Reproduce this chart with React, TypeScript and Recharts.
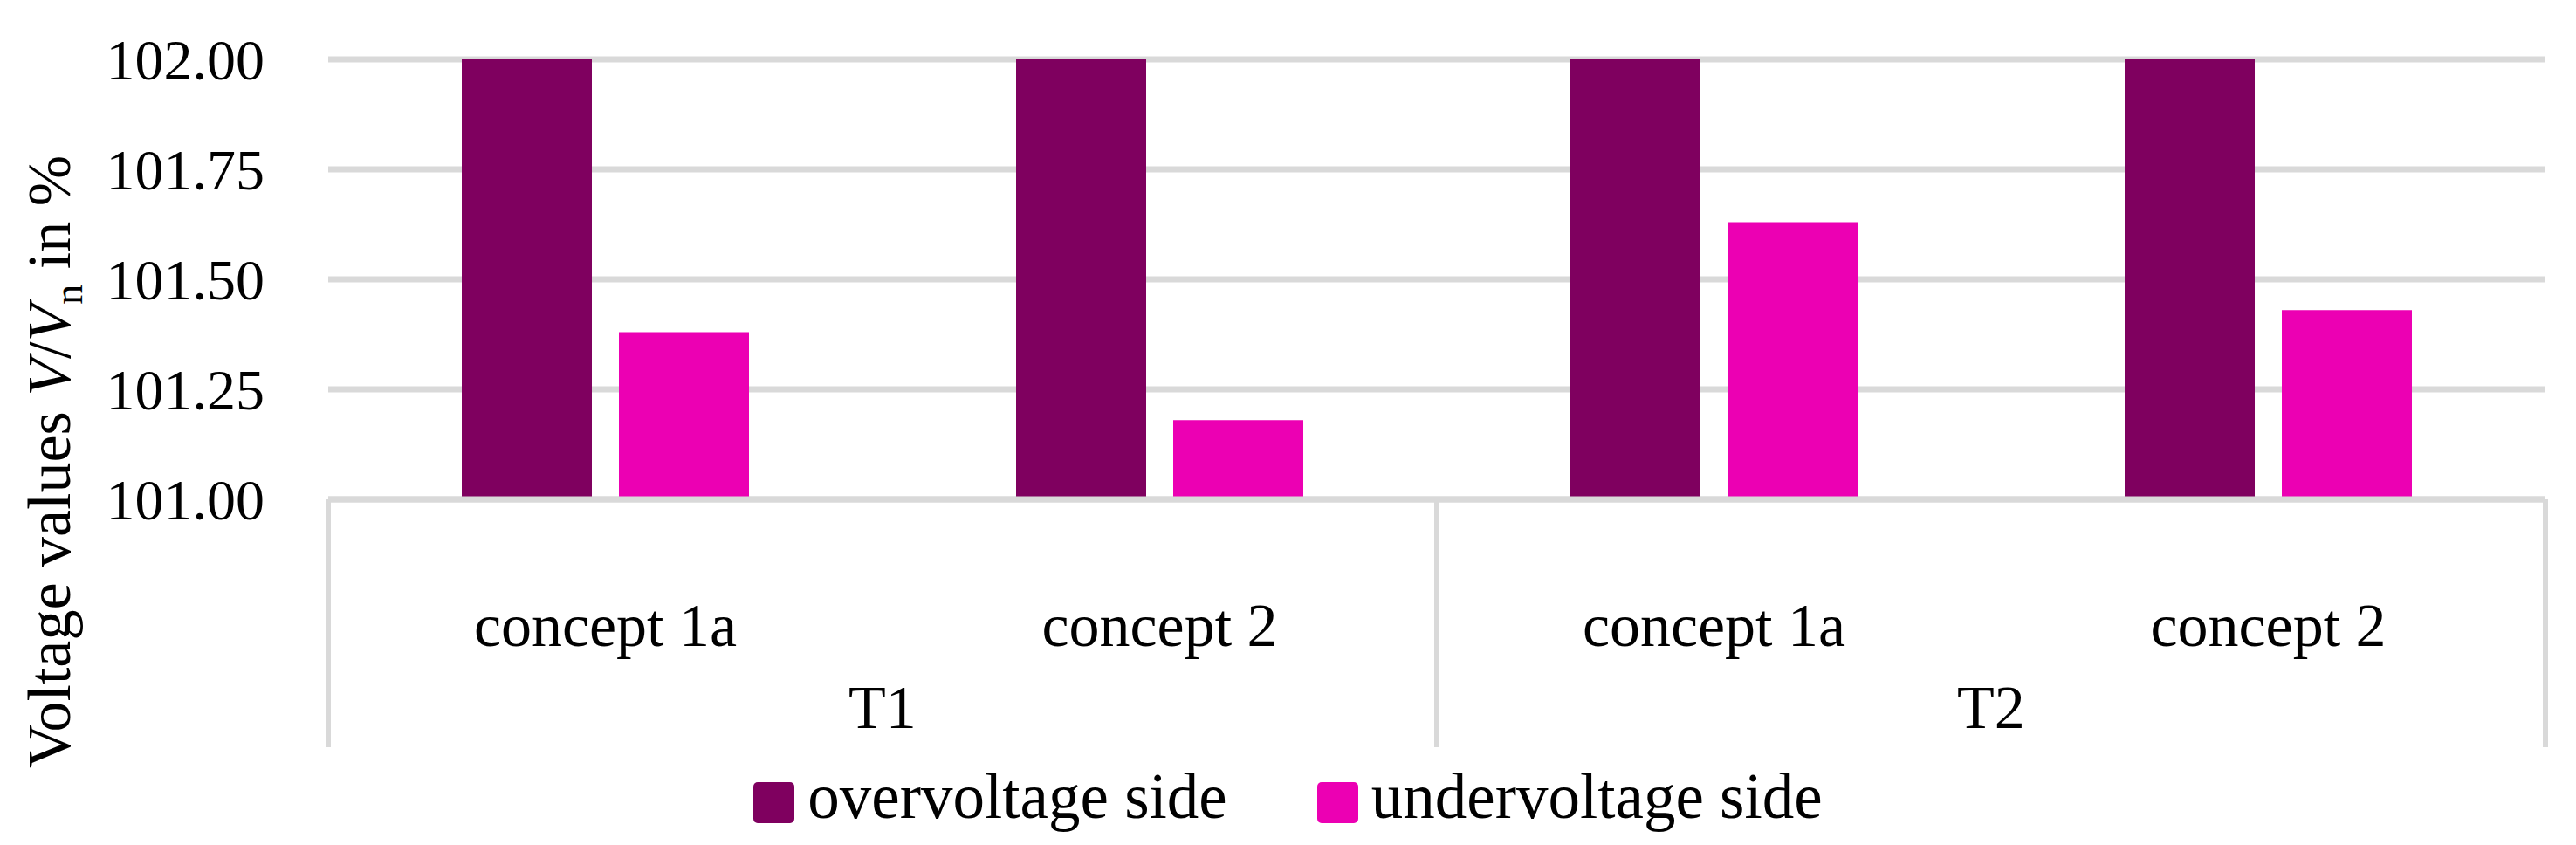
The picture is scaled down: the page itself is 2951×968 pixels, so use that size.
import * as React from "react";
import {
  Bar,
  BarChart,
  CartesianGrid,
  Legend,
  XAxis,
  YAxis,
} from "recharts";

// data
const groups = ["T1", "T1", "T2", "T2"];
const concepts = ["concept 1a", "concept 2", "concept 1a", "concept 2"];
const overvoltage = [102.0, 102.0, 102.0, 102.0];
const undervoltage = [101.38, 101.18, 101.63, 101.43];
const yTicks = [101.0, 101.25, 101.5, 101.75, 102.0];

const seriesNames = ["overvoltage side", "undervoltage side"];
const seriesColors = ["#7F005F", "#EC00B3"];

const data = concepts.map((c, i) => ({
  concept: c,
  group: groups[i],
  over: overvoltage[i],
  under: undervoltage[i],
}));

// layout
const W = 2951;
const H = 968;
const FONT = '"Liberation Serif", "Times New Roman", serif';
const GRID = "#D9D9D9";
const PLOT_LEFT = 376;
const PLOT_RIGHT = 2916;
const PLOT_BOTTOM = 572;
const BOX_BOTTOM = 856;
const BAND = (PLOT_RIGHT - PLOT_LEFT) / concepts.length;

function GroupTick(props: any) {
  const { x, index } = props;
  const g = groups[index];
  const isStart = index === 0 || groups[index - 1] !== g;
  const isLast = index === groups.length - 1;
  let count = 0;
  for (let k = index; k < groups.length && groups[k] === g; k++) count++;
  return (
    <g>
      {isStart && (
        <line
          x1={x - BAND / 2}
          x2={x - BAND / 2}
          y1={PLOT_BOTTOM}
          y2={BOX_BOTTOM}
          stroke={GRID}
          strokeWidth={6}
        />
      )}
      {isLast && (
        <line
          x1={x + BAND / 2}
          x2={x + BAND / 2}
          y1={PLOT_BOTTOM}
          y2={BOX_BOTTOM}
          stroke={GRID}
          strokeWidth={6}
        />
      )}
      {isStart && (
        <text
          x={x + (BAND * (count - 1)) / 2}
          y={834}
          textAnchor="middle"
          fontSize={70}
          fontFamily={FONT}
          fill="#000"
        >
          {g}
        </text>
      )}
    </g>
  );
}

function YTitle() {
  const cx = 80;
  const cy = 529;
  return (
    <text
      x={cx}
      y={cy}
      transform={`rotate(-90, ${cx}, ${cy})`}
      textAnchor="middle"
      fontSize={70}
      fontFamily={FONT}
      fill="#000"
    >
      Voltage values <tspan fontStyle="italic">V</tspan>/
      <tspan fontStyle="italic">V</tspan>
      <tspan fontSize={46} dy={14}>
        n
      </tspan>
      <tspan dy={-14}> in %</tspan>
    </text>
  );
}

function LegendBox() {
  return (
    <div
      style={{
        display: "flex",
        justifyContent: "center",
        alignItems: "flex-start",
        fontFamily: FONT,
        fontSize: 73,
        color: "#000",
      }}
    >
      {seriesNames.map((name, i) => (
        <div
          key={name}
          style={{
            display: "flex",
            alignItems: "flex-start",
            marginLeft: i === 0 ? 0 : 103,
          }}
        >
          <div
            style={{
              width: 47,
              height: 47,
              borderRadius: 5,
              background: seriesColors[i],
            }}
          />
          <span
            style={{
              marginLeft: 15,
              lineHeight: 1,
              marginTop: -20,
              whiteSpace: "nowrap",
            }}
          >
            {name}
          </span>
        </div>
      ))}
    </div>
  );
}

export default function App() {
  return (
    <div
      style={{
        position: "absolute",
        left: 0,
        top: 0,
        width: W,
        height: H,
        background: "#fff",
        fontFamily: FONT,
      }}
    >
      <BarChart
        width={W}
        height={H}
        data={data}
        margin={{ top: 68, right: W - PLOT_RIGHT, left: 0, bottom: 96 }}
        barGap={31}
      >
        <CartesianGrid
          vertical={false}
          stroke={GRID}
          strokeWidth={7}
        />
        <XAxis
          xAxisId="concept"
          dataKey="concept"
          height={190}
          tickLine={false}
          axisLine={{ stroke: GRID, strokeWidth: 7 }}
          tickSize={0}
          tickMargin={118}
          tick={{ fontSize: 70, fill: "#000", fontFamily: FONT }}
          interval={0}
        />
        <XAxis
          xAxisId="group"
          dataKey="group"
          height={110}
          tickLine={false}
          axisLine={false}
          interval={0}
          tick={<GroupTick />}
        />
        <YAxis
          width={PLOT_LEFT}
          domain={[101, 102]}
          ticks={yTicks}
          allowDataOverflow
          tickFormatter={(v: number) => v.toFixed(2)}
          axisLine={false}
          tickLine={false}
          tickSize={0}
          tickMargin={73}
          tick={{ fontSize: 66, fill: "#000", fontFamily: FONT }}
          label={{ content: () => <YTitle /> }}
        />
        <Legend
          layout="horizontal"
          verticalAlign="middle"
          align="center"
          content={() => <LegendBox />}
          wrapperStyle={{ top: 896, left: 0, width: W, bottom: "auto" }}
        />
        <Bar
          xAxisId="concept"
          dataKey="over"
          name={seriesNames[0]}
          fill={seriesColors[0]}
          barSize={149}
          isAnimationActive={false}
        />
        <Bar
          xAxisId="concept"
          dataKey="under"
          name={seriesNames[1]}
          fill={seriesColors[1]}
          barSize={149}
          isAnimationActive={false}
        />
      </BarChart>
    </div>
  );
}
